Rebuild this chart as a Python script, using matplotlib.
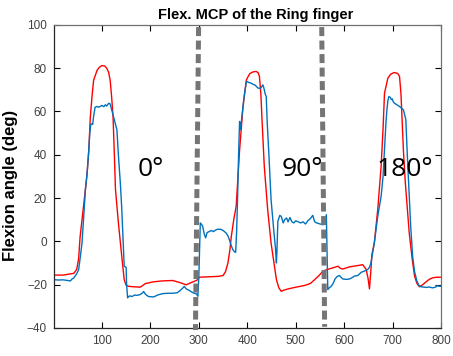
import numpy as np
import matplotlib.pyplot as plt

plt.rcParams['font.family'] = ['Liberation Sans', 'DejaVu Sans']

# measured flexion (red) and glove estimate (blue), frames 1..800
red_x = [1, 20, 42, 48, 52, 55, 62, 69, 73, 76, 80, 83, 90, 95, 100, 106, 110, 114, 117, 120,
         123, 126, 128, 134, 141, 146, 150, 155, 165, 179, 190, 207, 225, 246, 260, 274, 285,
         295, 299, 300, 320, 340, 350, 355, 360, 364, 367, 372, 377, 384, 391, 398, 405, 412,
         418, 422, 425, 428, 430, 435, 442, 449, 455, 460, 465, 470, 475, 484, 500, 518, 530,
         539, 548, 556, 565, 576, 587, 592, 597, 611, 625, 638, 645, 649, 652, 655, 657, 662,
         669, 676, 680, 683, 690, 696, 703, 710, 714, 717, 719, 722, 726, 734, 740, 745, 750,
         755, 762, 769, 775, 782, 790, 800]
red_y = [-15.6, -15.6, -14.8, -13, -8, 2, 16, 30, 42, 57, 68, 74.5, 79, 80.5, 81.2, 81, 80, 78,
         74.5, 67, 57.7, 38, 24, 8.6, -7, -17.7, -20.3, -20.8, -21, -21.2, -19.5, -18.7, -18.3,
         -18.1, -19, -20.1, -19, -18.1, -17.5, -16.6, -16.4, -16.2, -15.8, -14, -10, -4, 2.3,
         10, 16.2, 42, 62, 74.6, 77.5, 78.3, 78.5, 78, 76.2, 68, 57.7, 34.6, 14.6, -0.8, -10,
         -17.7, -21.5, -23.1, -22.6, -22, -21.2, -20.4, -19.5, -17.7, -15.8, -13.8, -13, -12.3,
         -11.5, -12.5, -12.8, -11.8, -11.3, -10.8, -12.9, -17, -22, -13, -6.1, -0.8, 14.6, 34.6,
         52, 68.5, 75.4, 77.3, 78, 77.6, 76.2, 68, 57.7, 42, 26.9, 3.9, -8, -16.1, -19.5, -21,
         -20, -18.7, -17.6, -16.9, -16.6, -16.6]

blue_x = [1, 10, 20, 30, 35, 38, 42, 48, 52, 55, 59, 62, 66, 70, 73, 75, 77, 79, 81, 83, 86, 90,
          94, 97, 100, 104, 107, 110, 114, 117, 120, 124, 127, 131, 134, 138, 141, 143, 146, 148,
          150, 151, 153, 157, 162, 168, 172, 179, 183, 186, 190, 196, 200, 207, 215, 225, 235,
          246, 255, 260, 266, 270, 274, 277, 281, 288, 295, 298, 300, 302, 303, 305, 308, 311,
          314, 317, 322, 326, 330, 336, 340, 346, 350, 356, 360, 363, 366, 370, 374, 376, 378,
          380, 382, 384, 386, 388, 391, 394, 398, 400, 404, 408, 412, 416, 422, 427, 430, 432,
          434, 437, 439, 441, 444, 449, 455, 458, 460, 461, 463, 467, 470, 474, 477, 481, 484,
          488, 492, 496, 500, 505, 510, 515, 520, 525, 530, 535, 539, 543, 550, 556, 560, 563,
          564, 566, 569, 573, 577, 581, 585, 590, 594, 597, 604, 611, 616, 621, 628, 635, 642,
          648, 652, 655, 658, 662, 669, 676, 680, 683, 686, 688, 690, 692, 695, 697, 699, 701,
          703, 708, 714, 718, 722, 724, 727, 730, 734, 737, 741, 745, 750, 754, 758, 765, 770,
          775, 782, 788, 792, 796, 800]
blue_y = [-17.7, -17.9, -17.8, -18.1, -18.3, -17.5, -16.9, -15, -13.1, -8, -0.7, 10, 23.9, 33,
          42.3, 50, 53.9, 54.3, 54, 58, 62, 62.3, 62, 62.4, 62.8, 62.2, 63.1, 62.5, 63.8, 63.5,
          61, 57.7, 55, 51.5, 40, 27, 15, 3.9, -11.5, -11.8, -12, -20, -26.1, -25.2, -25.5,
          -24.8, -25, -24.6, -24, -23.2, -24.5, -25.5, -25.6, -25.7, -24.8, -24.2, -24, -24,
          -23.8, -23, -21.8, -20.8, -22, -22.3, -22.8, -23.8, -24.3, -25.4, -16, 0, 8.5, 8,
          6.9, 3.5, 1.6, 4, 4.6, 5, 4.5, 5.4, 5.6, 5.5, 5.0, 3.9, 2.5, 0.8, -1.5, -3.8, -5, -5,
          5, 20.8, 40, 55.4, 51.5, 56, 62.3, 68, 73.6, 73.8, 73.3, 73.1, 72.5, 72.2, 70.8, 70.7,
          71.5, 72.3, 71, 68, 66.9, 55, 42.3, 19.2, 3.9, -3, -10, -5, 9.2, 12, 11.5, 8.5, 10,
          10.8, 9, 11, 9, 8.5, 9.5, 9, 8.5, 9, 8, 9.5, 10.5, 12, 9, 8.5, 8, 7.7, 8, 12.3, 0,
          -22.3, -21.5, -20.8, -19.5, -17.4, -16.3, -15.8, -16.8, -17.4, -17.6, -17.4, -16.8,
          -16.1, -15.8, -14.3, -13.7, -13.1, -12, -10, -6, -0.7, 11.5, 20.8, 30, 42.3, 55, 60.8,
          65, 66.9, 66.5, 65.5, 65.8, 64.5, 63.9, 63.2, 62.3, 61.5, 60.8, 59, 56.2, 40, 20.8, 7,
          -6.9, -14, -18.5, -20.4, -21, -21.2, -21.3, -21.1, -21.5, -21.2, -20.5, -20.8, -20.8]

# hand-drawn separators between the wrist orientations (top x, bottom x)
sep_top = [299.5, 553.5]
sep_bottom = [293.0, 559.5]
sep_lo = [-41, -39.5]

conditions = ['0°', '90°', '180°']
cond_x = [173, 470, 666]
cond_y = 30

fig = plt.figure(figsize=(4.53, 3.56), dpi=100)
ax = fig.add_axes([0.119, 0.079, 0.855, 0.851])

ax.plot(red_x, red_y, color='#ff0000', lw=1.0)
ax.plot(blue_x, blue_y, color='#0072bd', lw=1.0)

for xt, xb, lo in zip(sep_top, sep_bottom, sep_lo):
    ax.plot([xt, xb], [99, lo], color='#757575', lw=3.6,
            linestyle=(0, (1.8, 0.9)), clip_on=False, zorder=3)

for lab, x in zip(conditions, cond_x):
    ax.text(x, cond_y, lab, fontsize=19, family='Open Sans', ha='left', va='baseline')

ax.set_xlim(1, 800)
ax.set_ylim(-40, 100)
ax.set_xticks(np.arange(100, 801, 100))
ax.set_yticks(np.arange(-40, 101, 20))
ax.tick_params(direction='in', top=True, right=True, length=4, width=0.8,
               labelsize=8.5, labelcolor='#404040', pad=5)
for s in ['left', 'bottom']:
    ax.spines[s].set_color('#262626')
for s in ['top', 'right']:
    ax.spines[s].set_color('#707070')
for s in ax.spines.values():
    s.set_linewidth(0.9)

ax.set_title('Flex. MCP of the Ring finger', fontsize=10.5, fontweight='bold', pad=4, x=0.52)
ax.set_ylabel('Flexion angle (deg)', fontsize=12, fontweight='bold')
ax.yaxis.set_label_coords(-0.092, 0.47)

fig.savefig('out.png', dpi=100)
